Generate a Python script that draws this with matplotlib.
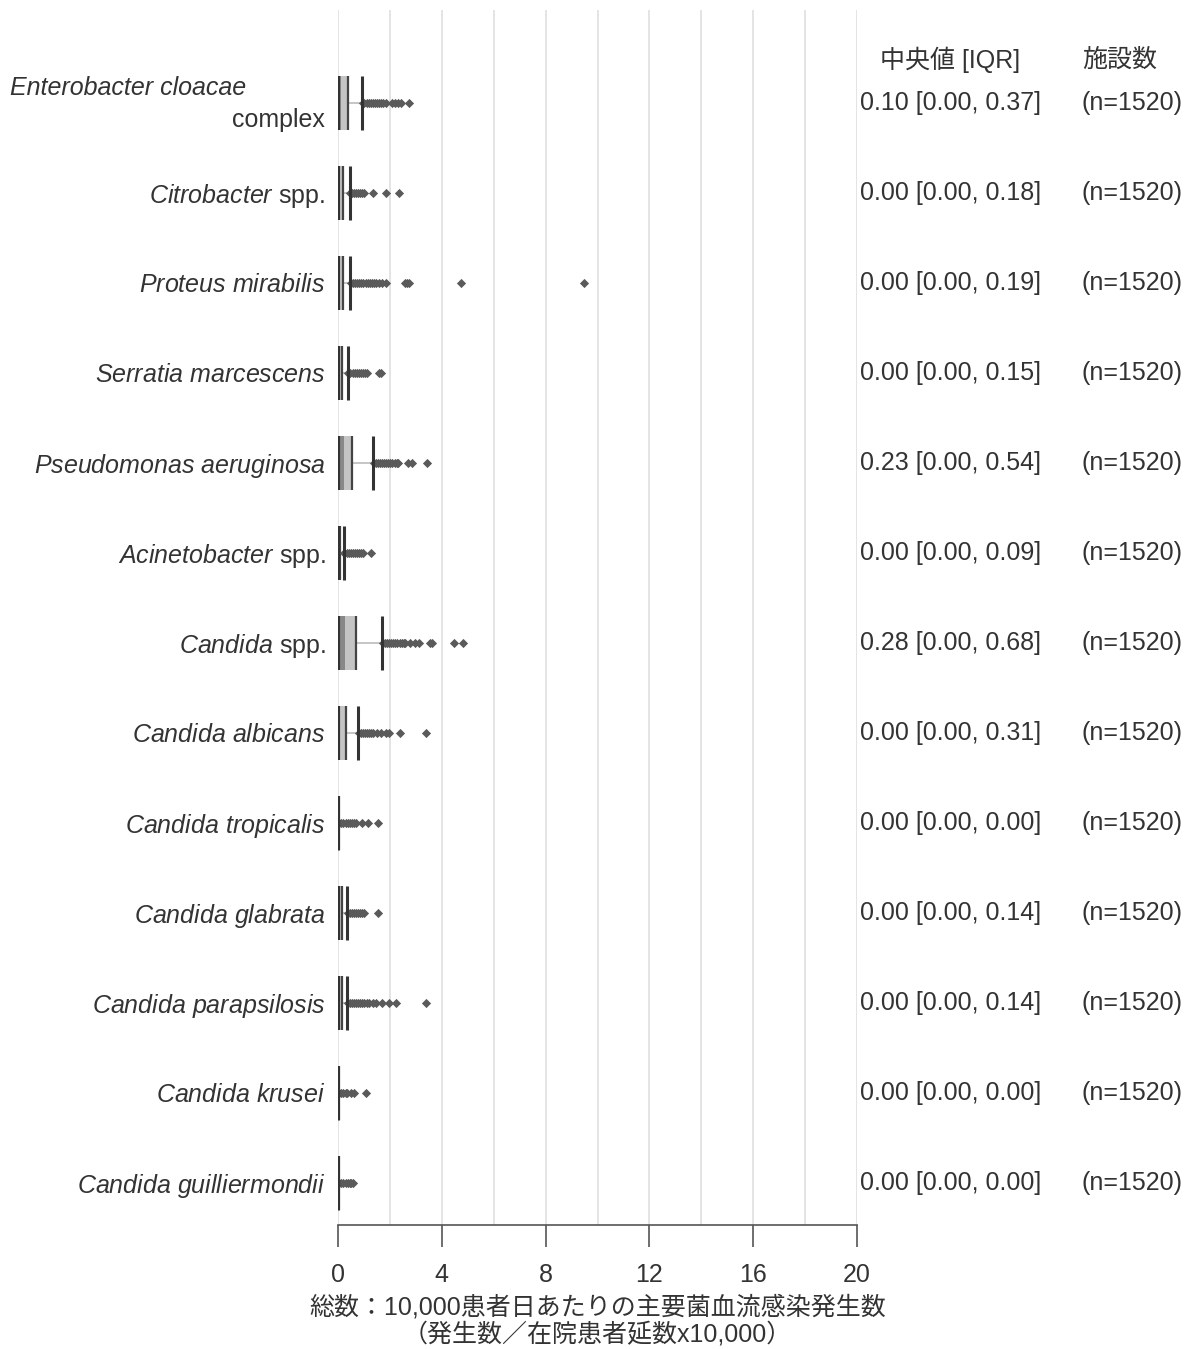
import matplotlib
matplotlib.use("Agg")
import matplotlib.pyplot as plt
import matplotlib.transforms as mtransforms

plt.rcParams['font.family'] = ['Liberation Sans', 'Noto Sans CJK JP']
plt.rcParams['mathtext.fontset'] = 'custom'
plt.rcParams['mathtext.rm'] = 'Liberation Sans'
plt.rcParams['mathtext.it'] = 'Liberation Sans:italic'

# organisms (italic part, plain suffix)
names_it = ["Enterobacter cloacae", "Citrobacter", "Proteus mirabilis", "Serratia marcescens",
            "Pseudomonas aeruginosa", "Acinetobacter", "Candida", "Candida albicans",
            "Candida tropicalis", "Candida glabrata", "Candida parapsilosis", "Candida krusei",
            "Candida guilliermondii"]
names_rm = ["complex", "spp.", "", "", "", "spp.", "spp.", "", "", "", "", "", ""]

q1 = [0.00] * 13
med = [0.10, 0.00, 0.00, 0.00, 0.23, 0.00, 0.28, 0.00, 0.00, 0.00, 0.00, 0.00, 0.00]
q3 = [0.37, 0.18, 0.19, 0.15, 0.54, 0.09, 0.68, 0.31, 0.00, 0.14, 0.14, 0.00, 0.00]
whis_hi = [0.925, 0.45, 0.475, 0.375, 1.35, 0.225, 1.70, 0.775, 0.0, 0.35, 0.35, 0.0, 0.0]
n_fac = [1520] * 13

fliers = [
    [0.95, 1.02, 1.1, 1.18, 1.26, 1.34, 1.42, 1.5, 1.58, 1.66, 1.74, 1.85, 2.08, 2.2, 2.3, 2.42, 2.74],
    [0.48, 0.55, 0.62, 0.7, 0.78, 0.86, 0.94, 1.02, 1.36, 1.85, 2.35],
    [0.5, 0.58, 0.66, 0.74, 0.82, 0.9, 0.98, 1.06, 1.14, 1.22, 1.3, 1.38, 1.46, 1.59, 1.71, 1.84,
     2.59, 2.66, 2.72, 4.74, 9.49],
    [0.4, 0.48, 0.56, 0.64, 0.72, 0.8, 0.88, 0.96, 1.04, 1.12, 1.58, 1.65],
    [1.38, 1.46, 1.54, 1.62, 1.7, 1.78, 1.86, 1.94, 2.02, 2.1, 2.18, 2.26, 2.33, 2.71, 2.84, 3.42],
    [0.25, 0.33, 0.41, 0.49, 0.57, 0.65, 0.73, 0.81, 0.89, 0.97, 1.26],
    [1.73, 1.81, 1.89, 1.97, 2.05, 2.13, 2.21, 2.29, 2.37, 2.45, 2.53, 2.6, 2.77, 2.97, 3.12,
     3.55, 3.63, 4.47, 4.8],
    [0.8, 0.88, 0.96, 1.04, 1.12, 1.2, 1.28, 1.34, 1.49, 1.64, 1.85, 1.98, 2.39, 3.39],
    [0.05, 0.13, 0.21, 0.29, 0.37, 0.45, 0.53, 0.61, 0.7, 0.91, 1.17, 1.55],
    [0.38, 0.46, 0.54, 0.62, 0.7, 0.78, 0.86, 0.94, 1.01, 1.55],
    [0.38, 0.46, 0.54, 0.62, 0.7, 0.78, 0.86, 0.94, 1.02, 1.1, 1.18, 1.36, 1.45, 1.71, 1.98,
     2.22, 3.39],
    [0.05, 0.13, 0.21, 0.29, 0.33, 0.49, 0.62, 1.07],
    [0.05, 0.13, 0.21, 0.29, 0.37, 0.45, 0.52, 0.57],
]

xticks = [0, 4, 8, 12, 16, 20]
txt = '#333333'
fs = 18

fig = plt.figure(figsize=(11.92, 13.49), dpi=100)
ax = fig.add_axes([338 / 1192, 124 / 1349, 519 / 1192, 1215 / 1349])

rows = list(range(len(names_it)))
h = 0.6
dark_w = [m - a for a, m in zip(q1, med)]
light_w = [b - m for m, b in zip(med, q3)]
ax.barh(rows, dark_w, left=q1, height=h, color='#888888', zorder=3)
ax.barh(rows, light_w, left=med, height=h, color='#c4c4c4', zorder=3)
ax.hlines(rows, q3, whis_hi, color='#bbbbbb', lw=1.2, zorder=2)
ax.vlines(q3, [r - h / 2 for r in rows], [r + h / 2 for r in rows], color='#444444', lw=1.6, zorder=4)
ax.vlines(q1, [r - h / 2 for r in rows], [r + h / 2 for r in rows], color='#333333', lw=3.0, zorder=5)
ax.vlines(whis_hi, [r - h / 2 for r in rows], [r + h / 2 for r in rows], color='#333333', lw=2.2, zorder=5)
for r, f in zip(rows, fliers):
    ax.scatter(f, [r] * len(f), marker='D', s=22, color='#5a5a5a', linewidths=0, zorder=4)

ax.set_xlim(0, 20)
ax.set_ylim(12.47, -1.03)
ax.set_xticks(xticks)
ax.set_xticks(range(0, 21, 2), minor=True)
ax.grid(axis='x', which='both', color='#e2e2e2', lw=1.3, zorder=0)
ax.set_axisbelow(True)
ax.tick_params(axis='x', which='major', length=16, width=1.2, color='#555555',
               labelsize=fs, labelcolor=txt, pad=11)
ax.tick_params(axis='x', which='minor', length=0)
for s in ['left', 'top', 'right']:
    ax.spines[s].set_visible(False)
ax.spines['bottom'].set_color('#555555')
ax.spines['bottom'].set_linewidth(1.2)

labels = []
for i, (a, b) in enumerate(zip(names_it, names_rm)):
    if i == 0:
        labels.append('')
    elif b:
        labels.append(r'$\mathit{' + a.replace(' ', r'\ ') + '}$ ' + b)
    else:
        labels.append(r'$\mathit{' + a.replace(' ', r'\ ') + '}$')
ax.set_yticks(rows)
ax.set_yticklabels(labels, fontsize=fs, color=txt)
ax.tick_params(axis='y', length=0, pad=9)

tr = mtransforms.blended_transform_factory(ax.transAxes, ax.transData)
ax.text(-0.632, -0.16, names_it[0], style='italic', fontsize=fs, color=txt,
        ha='left', va='center', transform=tr)
ax.text(-0.025, 0.19, names_rm[0], fontsize=fs, color=txt, ha='right', va='center', transform=tr)

ax.text(1.18, -0.48, '中央値 [IQR]', fontsize=fs, color=txt, ha='center', va='center',
        transform=tr, clip_on=False)
ax.text(1.4335, -0.48, '施設数', fontsize=fs, color=txt, ha='left', va='center',
        transform=tr, clip_on=False)
for r in rows:
    ax.text(1.006, r, f'{med[r]:.2f} [{q1[r]:.2f}, {q3[r]:.2f}]', fontsize=fs, color=txt,
            ha='left', va='center', transform=tr, clip_on=False)
    ax.text(1.4335, r, f'(n={n_fac[r]})', fontsize=fs, color=txt,
            ha='left', va='center', transform=tr, clip_on=False)

ax.set_xlabel('総数：10,000患者日あたりの主要菌血流感染発生数\n（発生数／在院患者延数x10,000）',
              fontsize=fs, color=txt, labelpad=6, linespacing=1.1)

fig.savefig('out.png', dpi=100)
